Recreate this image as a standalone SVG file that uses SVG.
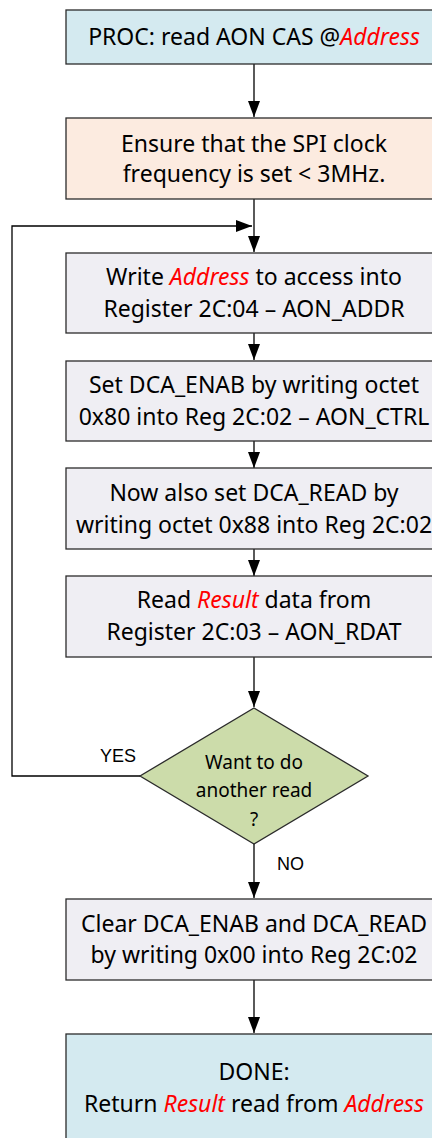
<svg xmlns="http://www.w3.org/2000/svg" width="432" height="1138" viewBox="0 0 432 1138">
<style>
.box{stroke:#2b2b2b;stroke-width:1.3}
.blue{fill:#d4eaf0}
.peach{fill:#fcebe0}
.grey{fill:#efeef3}
.green{fill:#ccdcaa}
.t{font-family:"Noto Sans","Open Sans",sans-serif;font-size:23px;fill:#000;text-anchor:middle}
.d{font-family:"Noto Sans","Open Sans",sans-serif;font-size:19px;fill:#000;text-anchor:middle}
.r{fill:#ff0000;font-style:italic}
.lbl{font-family:"Liberation Sans",Arial,sans-serif;font-size:18px;fill:#000}
.c{fill:none;stroke:#000;stroke-width:1.3}
</style>
<defs>
<marker id="ah" viewBox="0 0 16 12" refX="16" refY="6" markerWidth="16" markerHeight="12" orient="auto" markerUnits="userSpaceOnUse">
<path d="M0,0 L16,6 L0,12 z" fill="#000"/>
</marker>
</defs>
<g id="connectors">
<line class="c" x1="254" y1="64" x2="254" y2="117" marker-end="url(#ah)"/>
<line class="c" x1="254" y1="199" x2="254" y2="252" marker-end="url(#ah)"/>
<polyline class="c" points="140,776 12,776 12,226 252,226" marker-end="url(#ah)"/>
<line class="c" x1="254" y1="333" x2="254" y2="360" marker-end="url(#ah)"/>
<line class="c" x1="254" y1="441" x2="254" y2="468" marker-end="url(#ah)"/>
<line class="c" x1="254" y1="549" x2="254" y2="576" marker-end="url(#ah)"/>
<line class="c" x1="254" y1="657" x2="254" y2="707" marker-end="url(#ah)"/>
<line class="c" x1="254" y1="844" x2="254" y2="898" marker-end="url(#ah)"/>
<line class="c" x1="254" y1="980" x2="254" y2="1033" marker-end="url(#ah)"/>
<text class="lbl" x="100" y="762">YES</text>
<text class="lbl" x="277" y="870">NO</text>
</g>
<g id="n1">
<rect class="box blue" x="66" y="10" width="376" height="54"/>
<text class="t" x="254" y="45">PROC: read AON CAS @<tspan class="r">Address</tspan></text>
</g>
<g id="n2">
<rect class="box peach" x="66" y="118" width="376" height="81"/>
<text class="t" x="254" y="152">Ensure that the SPI clock</text>
<text class="t" x="254" y="182">frequency is set &lt; 3MHz.</text>
</g>
<g id="n3">
<rect class="box grey" x="66" y="253" width="376" height="80"/>
<text class="t" x="254" y="285">Write <tspan class="r">Address</tspan> to access into</text>
<text class="t" x="254" y="317">Register 2C:04 – AON_ADDR</text>
</g>
<g id="n4">
<rect class="box grey" x="66" y="361" width="376" height="80"/>
<text class="t" x="254" y="393">Set DCA_ENAB by writing octet</text>
<text class="t" x="254" y="425">0x80 into Reg 2C:02 – AON_CTRL</text>
</g>
<g id="n5">
<rect class="box grey" x="66" y="468" width="376" height="81"/>
<text class="t" x="254" y="501">Now also set DCA_READ by</text>
<text class="t" x="254" y="533">writing octet 0x88 into Reg 2C:02</text>
</g>
<g id="n6">
<rect class="box grey" x="66" y="576" width="376" height="81"/>
<text class="t" x="254" y="608">Read <tspan class="r">Result</tspan> data from</text>
<text class="t" x="254" y="640">Register 2C:03 – AON_RDAT</text>
</g>
<g id="n7">
<polygon class="box green" points="254,708 368,776 254,844 140,776"/>
<text class="d" x="254" y="769">Want to do</text>
<text class="d" x="254" y="797">another read</text>
<text class="d" x="254" y="826">?</text>
</g>
<g id="n8">
<rect class="box grey" x="66" y="899" width="376" height="81"/>
<text class="t" x="254" y="932">Clear DCA_ENAB and DCA_READ</text>
<text class="t" x="254" y="963">by writing 0x00 into Reg 2C:02</text>
</g>
<g id="n9">
<rect class="box blue" x="66" y="1034" width="376" height="110"/>
<text class="t" x="254" y="1080">DONE:</text>
<text class="t" x="254" y="1112">Return <tspan class="r">Result</tspan> read from <tspan class="r">Address</tspan></text>
</g>
</svg>
